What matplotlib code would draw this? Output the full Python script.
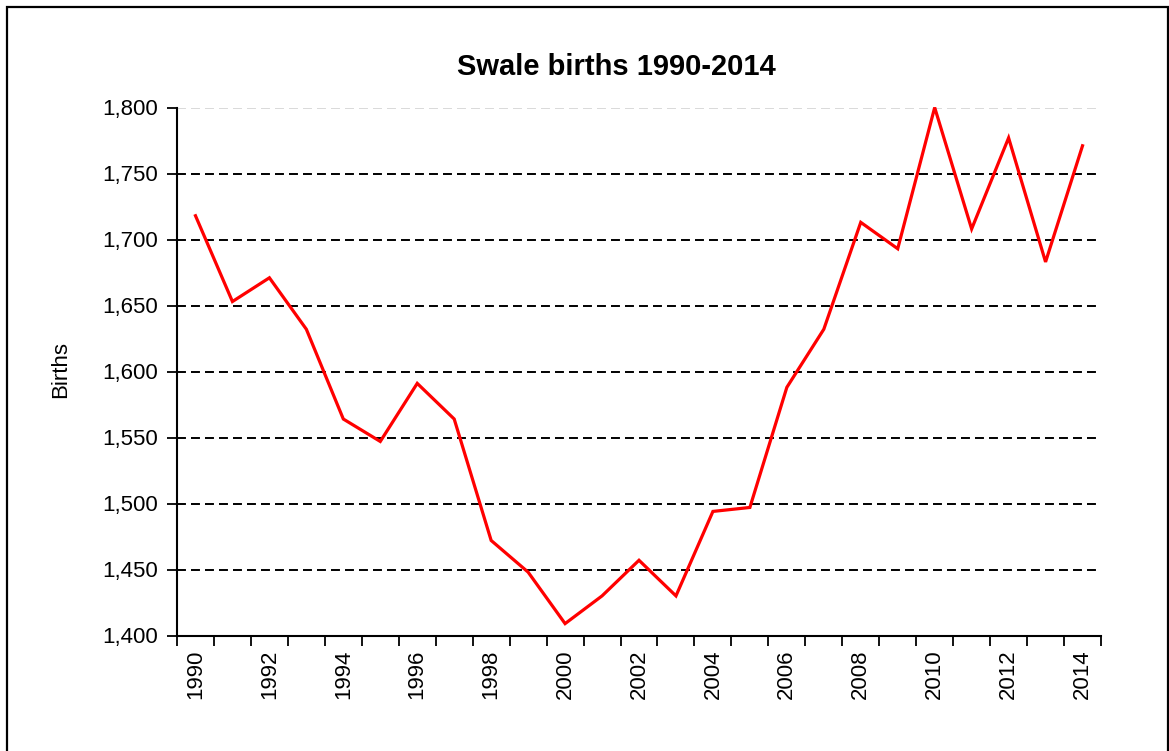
import matplotlib
matplotlib.use("Agg")
import matplotlib.pyplot as plt
from matplotlib.patches import Rectangle
from matplotlib.ticker import FuncFormatter, FixedLocator

plt.rcParams['font.family'] = ['Liberation Sans', 'DejaVu Sans']

years = list(range(1990, 2015))
births = [1718, 1653, 1671, 1632, 1564, 1547, 1591, 1564, 1472, 1448,
          1409, 1430, 1457, 1430, 1494, 1497, 1588, 1632, 1713, 1693,
          1800, 1708, 1777, 1683, 1771]
title = "Swale births 1990-2014"
ylabel = "Births"

W, H = 1169, 751
fig = plt.figure(figsize=(W / 100, H / 100), dpi=100)
ax = fig.add_axes([177 / W, 1 - 635.5 / H, (1101 - 177) / W, (635.5 - 107.5) / H])

x = list(range(len(years)))
ax.plot(x, births, color='#ff0000', lw=2.3, solid_joinstyle='miter', clip_on=False, zorder=3)

ax.set_xlim(-0.5, len(years) - 0.5)
ax.set_ylim(1400, 1800)

# y ticks and grid
yt = list(range(1400, 1801, 50))
ax.set_yticks(yt)
ax.yaxis.set_major_formatter(FuncFormatter(lambda v, p: f"{int(v):,}"))
for v in yt[1:]:
    col = 'black' if v < 1800 else '#d9d9d9'
    ax.axhline(v, color=col, lw=1.4, ls=(0, (4.6, 2.6)), zorder=1)

# x ticks: marks at category boundaries, labels at every other category
ax.xaxis.set_major_locator(FixedLocator([i + 0.5 for i in range(-1, len(years))]))
ax.xaxis.set_major_formatter(FuncFormatter(lambda v, p: ""))
ax.xaxis.set_minor_locator(FixedLocator([i for i in x if years[i] % 2 == 0]))
ax.xaxis.set_minor_formatter(FuncFormatter(lambda v, p: str(years[int(round(v))])))
ax.tick_params(axis='x', which='major', length=7, width=1.3, direction='out')
ax.tick_params(axis='x', which='minor', length=0, labelsize=16, rotation=90, pad=10)
ax.tick_params(axis='y', length=7, width=1.3, direction='out', labelsize=16, pad=7)

for s in ['top', 'right']:
    ax.spines[s].set_visible(False)
for s in ['left', 'bottom']:
    ax.spines[s].set_linewidth(1.5)

fig.text(616 / W, 1 - 67 / H, title, ha='center', va='center', fontsize=21, fontweight='bold')
fig.text(61 / W, 1 - 369 / H, ylabel, ha='center', va='center', fontsize=16, rotation=90)

fig.patches.append(Rectangle((7 / W, -0.05), (1168 - 7) / W, (1 - 6.5 / H) + 0.05,
                             transform=fig.transFigure, fill=False, ec='black', lw=1.6))

fig.savefig("out.png", dpi=100)
